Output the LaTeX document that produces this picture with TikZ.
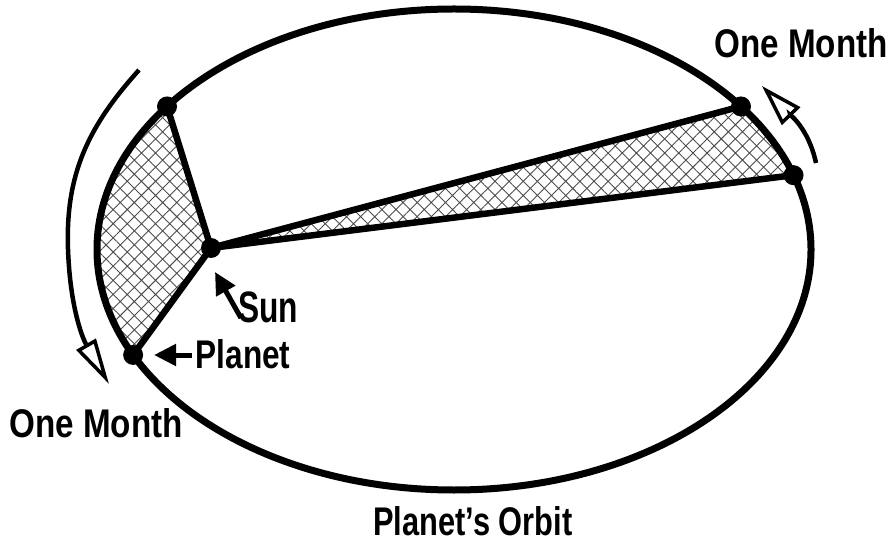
\documentclass[tikz,border=0pt]{standalone}
\usepackage{fontspec}
\setmainfont{Liberation Sans}
\usepackage{graphicx}
\usetikzlibrary{arrows.meta,patterns.meta,calc}
\begin{document}
\begin{tikzpicture}[x=1pt,y=1pt,
  orbit/.style={line width=7pt},
  ray/.style={line width=6.5pt, line join=round},
  dot/.style={circle, fill=black, inner sep=0pt, minimum size=20pt},
  hatch/.style={pattern={Hatch[angle=45,distance=10pt,line width=0.9pt]}, pattern color=black!70},
  month/.style={line width=4.5pt},
  lbl/.style={font=\fontsize{40}{44}\selectfont\bfseries, inner sep=0pt, anchor=base},
  ptr/.style={line width=5pt, -{Triangle[length=22pt,width=21pt]}}]
\useasboundingbox (0,0) rectangle (890,549);
\coordinate (O) at (454,299.5);
\coordinate (pA) at ($(O)+(143.5:357 and 240.5)$);
\coordinate (pP) at ($(O)+(206:357 and 240.5)$);
\coordinate (pB) at ($(O)+(36.5:357 and 240.5)$);
\coordinate (pC) at ($(O)+(18:357 and 240.5)$);
\coordinate (pS) at (211,301);
% shaded sectors
\fill[hatch] (pS) -- (pA) arc[start angle=143.5, end angle=206, x radius=357, y radius=240.5] -- cycle;
\fill[hatch] (pS) -- (pB) arc[start angle=36.5, end angle=18, x radius=357, y radius=240.5] -- cycle;
% orbit
\draw[orbit] (O) ellipse [x radius=357, y radius=240.5];
% bodies
\node[dot] (S) at (pS) {};
\node[dot] (A) at (pA) {};
\node[dot] (P) at (pP) {};
\node[dot] (B) at (pB) {};
\node[dot] (C) at (pC) {};
\draw[ray] (S.center) -- (A.center);
\draw[ray] (S.center) -- (P.center);
\draw[ray] (S.center) -- (B.center);
\draw[ray] (S.center) -- (C.center);
% one-month arrows
\coordinate (m1s) at (139,479);
\coordinate (m1m) at (68,300);
\coordinate (m1e) at (109,165);
\draw[month, -{Triangle[open, length=46pt, width=22pt, line width=3.5pt]}] (m1s) to[out=228,in=92] (m1m) to[out=-88,in=120] (m1e);
\coordinate (m2s) at (816,386);
\coordinate (m2e) at (762,463);
\draw[month, -{Triangle[open, length=42pt, width=25pt, line width=3.5pt]}] (m2s) to[out=102,in=-46] (m2e);
% labels
\node[lbl] (tm) at (801,491) {\scalebox{0.83}[1]{One Month}};
\node[lbl] (bm) at (96,112) {\scalebox{0.83}[1]{One Month}};
\node[lbl] (orb) at (473,14) {\scalebox{0.77}[1]{Planet’s Orbit}};
\node[lbl] (sunl) at (268,226) {\scalebox{0.72}[1]{\fontsize{44}{48}\selectfont Sun}};
\node[lbl] (pl) at (243,181) {\scalebox{0.79}[1]{Planet}};
% pointers
\coordinate (sunT) at (241,231);
\coordinate (sunP) at (215,277);
\draw[ptr] (sunT) -- (sunP);
\coordinate (plT) at (192,194);
\coordinate (plP) at (154,194);
\draw[ptr] (plT) -- (plP);
\end{tikzpicture}
\end{document}
